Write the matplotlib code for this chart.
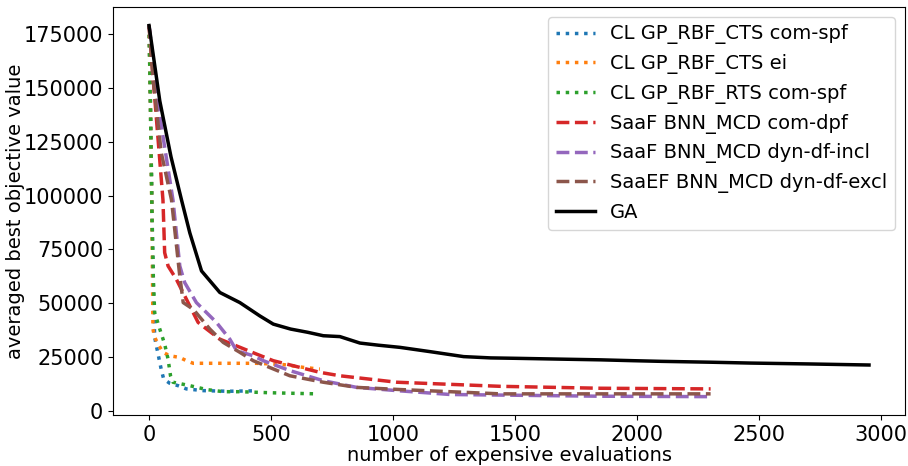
import matplotlib
matplotlib.use("Agg")
import matplotlib.pyplot as plt

# averaged best objective value vs. number of expensive evaluations
cts_spf_x = [0, 6, 12, 18, 23, 30, 37, 44, 51, 60, 85, 119, 153, 222, 324, 427]
cts_spf_y = [179000, 140000, 95000, 55000, 34200, 30200, 26400, 22500, 18700, 14800,
             12800, 11700, 10200, 9400, 9100, 9300]

cts_ei_x = [0, 6, 12, 16, 23, 37, 57, 85, 126, 153, 181, 300, 440, 550, 632, 700]
cts_ei_y = [179000, 140000, 90000, 38000, 34200, 31000, 27200, 25600, 24800, 23300,
            22100, 22100, 22100, 21500, 20200, 19400]

rts_spf_x = [0, 6, 12, 18, 23, 44, 64, 78, 88, 98, 133, 167, 236, 304, 373, 500, 687]
rts_spf_y = [179000, 140000, 90000, 60000, 45700, 38000, 31000, 24000, 16300, 13300,
             12500, 11700, 9900, 8900, 8900, 8400, 7900]

dpf_x = [0, 20, 40, 57, 64, 78, 112, 153, 201, 236, 290, 373, 440, 509, 646, 700, 782,
         1015, 1439, 1849, 2301]
dpf_y = [179000, 150000, 122000, 98000, 73500, 67300, 61100, 51900, 41100, 38000, 33300,
         29500, 26400, 23300, 19400, 17900, 16300, 13300, 11400, 10500, 10200]

incl_x = [0, 44, 98, 126, 146, 194, 276, 331, 359, 427, 468, 577, 714, 851, 1015, 1234,
          1849, 2301]
incl_y = [179000, 137000, 98000, 67300, 59600, 50300, 41100, 33300, 27900, 25600, 23300,
          18700, 14000, 10900, 9400, 7600, 6800, 6600]

excl_x = [0, 16, 50, 92, 126, 140, 181, 249, 304, 372, 427, 577, 714, 851, 1029, 1439,
          2301]
excl_y = [179000, 155000, 120000, 98000, 62600, 50300, 47200, 38000, 31800, 27200, 23300,
          16300, 13300, 10900, 9900, 7900, 7900]

ga_x = [0, 44, 90, 133, 167, 215, 290, 372, 454, 509, 580, 650, 714, 782, 864, 940, 1028,
        1152, 1289, 1400, 1508, 1700, 1850, 1986, 2100, 2300, 2465, 2700, 2950]
ga_y = [179000, 144000, 118000, 98000, 82700, 65000, 55000, 50300, 44100, 40300, 38000,
        36500, 34900, 34500, 31500, 30500, 29500, 27500, 25200, 24600, 24400, 24000, 23700,
        23300, 23000, 22600, 22200, 21800, 21300]

plt.rcParams["font.size"] = 14

fig, ax = plt.subplots(figsize=(9.08, 4.66), dpi=100)
lw = 2.5
ax.plot(cts_spf_x, cts_spf_y, ":", color="C0", lw=lw, label="CL GP_RBF_CTS com-spf")
ax.plot(cts_ei_x, cts_ei_y, ":", color="C1", lw=lw, label="CL GP_RBF_CTS ei")
ax.plot(rts_spf_x, rts_spf_y, ":", color="C2", lw=lw, label="CL GP_RBF_RTS com-spf")
ax.plot(dpf_x, dpf_y, "--", color="C3", lw=lw, label="SaaF BNN_MCD com-dpf")
ax.plot(incl_x, incl_y, "--", color="C4", lw=lw, label="SaaF BNN_MCD dyn-df-incl")
ax.plot(excl_x, excl_y, "--", color="C5", lw=lw, label="SaaEF BNN_MCD dyn-df-excl")
ax.plot(ga_x, ga_y, "-", color="black", lw=lw, label="GA")

ax.tick_params(labelsize=15)
ax.set_xlabel("number of expensive evaluations", labelpad=1)
ax.set_ylabel("averaged best objective value")
ax.yaxis.set_label_coords(-0.111, 0.5)
ax.legend(loc="upper right")
fig.subplots_adjust(left=0.1245, right=0.9967, top=0.985, bottom=0.109)
fig.savefig("out.png", dpi=100)
